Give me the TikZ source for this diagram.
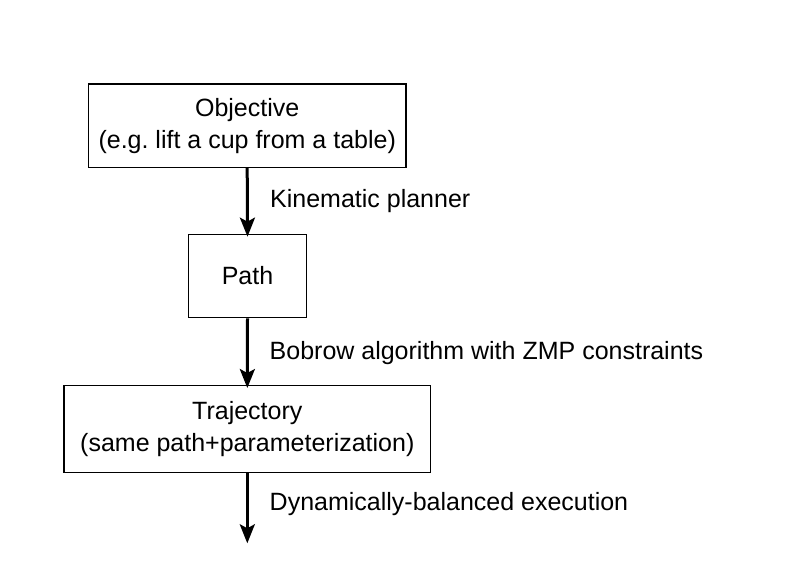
\documentclass[tikz,border=0pt]{standalone}
\usepackage{fontspec}
\setmainfont{Liberation Sans}
\usetikzlibrary{arrows.meta}
\frenchspacing
\begin{document}
\begin{tikzpicture}[x=1pt,y=-1pt,
  box/.style={draw=black, line width=1.3pt, fill=white, align=center, inner sep=0pt,
    font=\fontsize{25}{32}\selectfont},
  arr/.style={line width=3pt, -{Stealth[length=19pt,width=15pt,inset=4pt]}},
  lbl/.style={anchor=base west, inner sep=0pt, font=\fontsize{25}{30}\selectfont}]
\useasboundingbox (0,0) rectangle (791,576);
\node[box, minimum width=317.7pt, minimum height=83.3pt] (obj) at (247.2,125.7)
  {Objective\\(e.g. lift a cup from a table)};
\node[box, minimum width=117.4pt, minimum height=83.4pt] (path) at (247.5,276)
  {Path};
\node[box, minimum width=366.7pt, minimum height=86.6pt] (traj) at (247.3,429)
  {Trajectory\\(same path+parameterization)};
\coordinate (end) at (247.3,543.3);
\draw[arr, shorten >=-3pt] (obj.south) -- (path.north);
\draw[arr, shorten >=-3pt] (path.south) -- (traj.north);
\draw[arr] (traj.south) -- (end);
\node[lbl] (l1) at (270,207.5) {Kinematic planner};
\node[lbl] (l2) at (269.5,359.5) {Bobrow algorithm with ZMP constraints};
\node[lbl] (l3) at (269.5,510) {Dynamically-balanced execution};
\end{tikzpicture}
\end{document}
